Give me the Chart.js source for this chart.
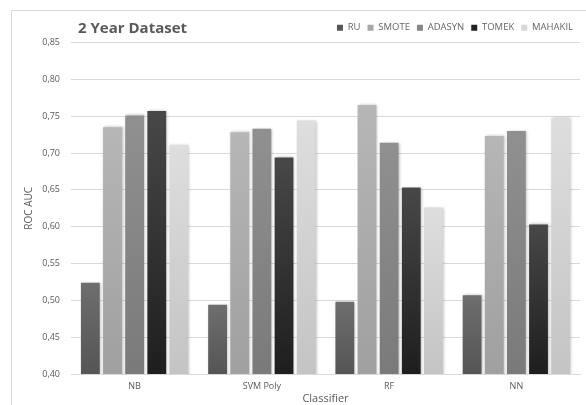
<!DOCTYPE html>
<html>
<head>
<meta charset="utf-8">
<script src="https://cdn.jsdelivr.net/npm/chart.js@4"></script>
<style>
  html, body { margin: 0; padding: 0; background: #fff; }
  #wrap { position: relative; width: 586px; height: 405px; }
  #frame { position: absolute; left: 11px; top: 10px; right: 0; bottom: 0;
           border-left: 1px solid #d9d9d9; border-top: 1px solid #d9d9d9; }
  #title { position: absolute; left: 78px; top: 17px; font: bold 15px "Open Sans", sans-serif;
           color: #595959; }
  canvas { position: absolute; left: 0; top: 0; }
</style>
</head>
<body>
<div id="wrap">
  <div id="frame"></div>
  <canvas id="c" width="586" height="405"></canvas>
  <div id="title">2 Year Dataset</div>
</div>
<script>
// ROC AUC per classifier and resampling technique
const classifiers = ["NB", "SVM Poly", "RF", "NN"];
const ru      = [0.524, 0.494, 0.498, 0.507];
const smote   = [0.735, 0.728, 0.765, 0.723];
const adasyn  = [0.751, 0.733, 0.714, 0.730];
const tomek   = [0.757, 0.694, 0.653, 0.603];
const mahakil = [0.711, 0.744, 0.626, 0.747];
const yTicks  = [0.40, 0.45, 0.50, 0.55, 0.60, 0.65, 0.70, 0.75, 0.80, 0.85];

// [top colour, bottom colour, legend swatch]
const shades = {
  RU:      ["#6e6e6e", "#555555", "#555555"],
  SMOTE:   ["#b6b6b6", "#a0a0a0", "#a8a8a8"],
  ADASYN:  ["#909090", "#7a7a7a", "#858585"],
  TOMEK:   ["#484848", "#1e1e1e", "#222222"],
  MAHAKIL: ["#dedede", "#c4c4c4", "#d8d8d8"]
};

function barFill(name) {
  return function (ctx) {
    const chart = ctx.chart;
    const s = shades[name];
    if (!chart.chartArea || ctx.raw == null) return s[2];
    const y = chart.scales.y;
    const top = y.getPixelForValue(ctx.raw);
    const bottom = y.getPixelForValue(0.40);
    const g = chart.ctx.createLinearGradient(0, top, 0, bottom);
    g.addColorStop(0, s[0]);
    g.addColorStop(1, s[1]);
    return g;
  };
}

function series(name, values) {
  return {
    label: name,
    data: values,
    backgroundColor: barFill(name),
    borderWidth: 0,
    categoryPercentage: 0.87,
    barPercentage: 0.85
  };
}

// soft drop shadow behind bars
const barShadow = {
  id: "barShadow",
  beforeDatasetsDraw(chart) {
    const c = chart.ctx;
    c.save();
    c.shadowColor = "rgba(0,0,0,0.28)";
    c.shadowBlur = 3;
    c.shadowOffsetX = 1;
    c.shadowOffsetY = 0;
  },
  afterDatasetsDraw(chart) {
    chart.ctx.restore();
  }
};

const font = "'Open Sans', sans-serif";

new Chart(document.getElementById("c"), {
  type: "bar",
  data: {
    labels: classifiers,
    datasets: [
      series("RU", ru),
      series("SMOTE", smote),
      series("ADASYN", adasyn),
      series("TOMEK", tomek),
      series("MAHAKIL", mahakil)
    ]
  },
  options: {
    responsive: false,
    animation: false,
    layout: { padding: { left: 18, right: 6, top: 16, bottom: 0 } },
    plugins: {
      title: { display: false },
      tooltip: { enabled: false },
      legend: {
        position: "top",
        align: "end",
        labels: {
          boxWidth: 6,
          boxHeight: 6,
          padding: 7,
          color: "#666666",
          font: { family: font, size: 9.5 },
          generateLabels(chart) {
            return chart.data.datasets.map((d, i) => ({
              text: d.label,
              fillStyle: shades[d.label][2],
              strokeStyle: shades[d.label][2],
              lineWidth: 0,
              fontColor: "#666666",
              datasetIndex: i,
              hidden: false
            }));
          }
        }
      }
    },
    scales: {
      x: {
        afterFit(axis) { axis.height = 31; },
        grid: { display: false, drawTicks: false },
        border: { display: true, color: "#d9d9d9" },
        ticks: { color: "#595959", padding: 7, font: { family: font, size: 9 } },
        title: {
          display: true, text: "Classifier", color: "#595959",
          font: { family: font, size: 11 }, padding: { top: 1, bottom: 0 }
        }
      },
      y: {
        min: 0.40,
        max: 0.85,
        afterBuildTicks(axis) { axis.ticks = yTicks.map(v => ({ value: v })); },
        afterFit(axis) { axis.width = 53; },
        grid: { color: "#d9d9d9", drawTicks: false },
        border: { display: false },
        ticks: {
          color: "#595959", padding: 11, font: { family: font, size: 9 },
          callback: v => v.toFixed(2).replace(".", ",")
        },
        title: {
          display: true, text: "ROC AUC", color: "#595959",
          font: { family: font, size: 10 }, padding: { top: 5, bottom: 0 }
        }
      }
    }
  },
  plugins: [barShadow]
});
</script>
</body>
</html>
